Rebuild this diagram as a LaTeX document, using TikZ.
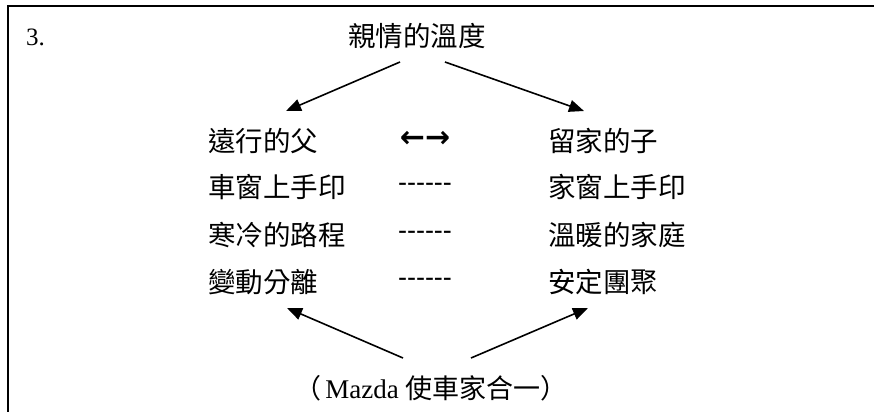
\documentclass[tikz,border=0pt]{standalone}
\usepackage{fontspec}
\setmainfont{Liberation Serif}
\newfontfamily\cjk{Noto Sans CJK TC}
\newfontfamily\lsans{Liberation Sans}
\newfontfamily\dvs{DejaVu Sans}
\usetikzlibrary{arrows.meta}
\begin{document}
\begin{tikzpicture}[x=1pt,y=-1pt,
  txt/.style={inner sep=0pt,font=\cjk\fontsize{27.5}{30}\selectfont},
  lefttxt/.style={txt,anchor=west},
  dashtxt/.style={inner sep=0pt,font=\lsans\fontsize{27}{30}\selectfont},
  conn/.style={line width=1.6pt,-{Triangle[length=15pt,width=12pt]}},
  frame/.style={line width=2pt}]
\useasboundingbox (0,0) rectangle (874,412);
\fill[white] (0,0) rectangle (874,412);
% frame: top and left only
\coordinate (tl) at (7.5,6);
\coordinate (tr) at (874,6);
\coordinate (bl) at (7.5,412);
\draw[frame] (tr) -- (tl) -- (bl);
% labels
\node[inner sep=0pt,anchor=west,font=\fontsize{25}{28}\selectfont] (num) at (26,37) {3.};
\node[txt] (title) at (417,36) {親情的溫度};
\node[lefttxt] (l1) at (208,141) {遠行的父};
\node[lefttxt] (l2) at (208,187) {車窗上手印};
\node[lefttxt] (l3) at (208,235) {寒冷的路程};
\node[lefttxt] (l4) at (208,282) {變動分離};
\node[inner sep=0pt,font=\dvs\bfseries\fontsize{30}{32}\selectfont] (m1) at (425,139) {←→};
\node[dashtxt] (m2) at (425,187) {------};
\node[dashtxt] (m3) at (425,235) {------};
\node[dashtxt] (m4) at (425,282) {------};
\node[lefttxt] (r1) at (548,141) {留家的子};
\node[lefttxt] (r2) at (548,187) {家窗上手印};
\node[lefttxt] (r3) at (548,235) {溫暖的家庭};
\node[lefttxt] (r4) at (548,282) {安定團聚};
\node[inner sep=0pt,font=\fontsize{27}{30}\selectfont] (bottom) at (431,388)
  {{\cjk （}\hspace{4pt}Mazda {\cjk 使車家合一）}};
% connector end points
\coordinate (ts1) at (400,62);
\coordinate (ts2) at (445,62);
\coordinate (te1) at (286,111);
\coordinate (te2) at (584,111);
\coordinate (bs1) at (403,358);
\coordinate (bs2) at (471,358);
\coordinate (be1) at (287,308);
\coordinate (be2) at (588,308);
\draw[conn] (ts1) -- (te1);
\draw[conn] (ts2) -- (te2);
\draw[conn] (bs1) -- (be1);
\draw[conn] (bs2) -- (be2);
\end{tikzpicture}
\end{document}
